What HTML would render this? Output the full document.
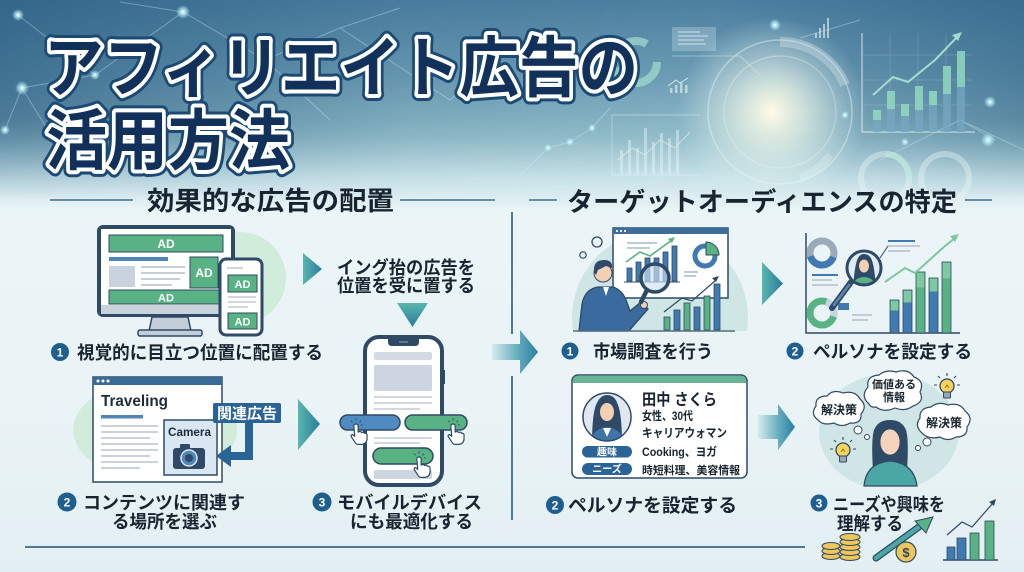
<!DOCTYPE html>
<html><head><meta charset="utf-8">
<style>
html,body{margin:0;padding:0;width:1024px;height:572px;overflow:hidden;background:#eaf4f6;}
svg{display:block}
text{font-family:"Liberation Sans","Noto Sans CJK JP",sans-serif;font-weight:bold;}
</style></head><body>
<svg width="1024" height="572" viewBox="0 0 1024 572" xmlns="http://www.w3.org/2000/svg">
<defs>
 <linearGradient id="bg" x1="0" y1="0" x2="0" y2="572" gradientUnits="userSpaceOnUse">
  <stop offset="0" stop-color="#4d80a0"/>
  <stop offset="0.14" stop-color="#6f9fb7"/>
  <stop offset="0.24" stop-color="#94bfcb"/>
  <stop offset="0.31" stop-color="#c9e3e9"/>
  <stop offset="0.37" stop-color="#ebf5f7"/>
  <stop offset="0.7" stop-color="#eaf4f6"/>
  <stop offset="1" stop-color="#e4eff3"/>
 </linearGradient>
 <linearGradient id="hdark" x1="0" y1="0" x2="1024" y2="0" gradientUnits="userSpaceOnUse">
  <stop offset="0" stop-color="#23557a" stop-opacity="0.6"/>
  <stop offset="0.4" stop-color="#23557a" stop-opacity="0.1"/>
  <stop offset="0.7" stop-color="#23557a" stop-opacity="0"/>
  <stop offset="1" stop-color="#23557a" stop-opacity="0.45"/>
 </linearGradient>
 <linearGradient id="vfade" x1="0" y1="0" x2="0" y2="1">
  <stop offset="0" stop-color="#fff"/>
  <stop offset="0.6" stop-color="#fff"/>
  <stop offset="1" stop-color="#000"/>
 </linearGradient>
 <mask id="topmask"><rect x="0" y="0" width="1024" height="200" fill="url(#vfade)"/></mask>
 <radialGradient id="glow" cx="772" cy="112" r="95" gradientUnits="userSpaceOnUse">
  <stop offset="0" stop-color="#fffbe6" stop-opacity="1"/>
  <stop offset="0.35" stop-color="#eef6e8" stop-opacity="0.7"/>
  <stop offset="1" stop-color="#d8ecee" stop-opacity="0"/>
 </radialGradient>
 <radialGradient id="dot" cx="0.5" cy="0.5" r="0.5">
  <stop offset="0" stop-color="#ffffff" stop-opacity="1"/>
  <stop offset="0.35" stop-color="#bff6ff" stop-opacity="0.8"/>
  <stop offset="1" stop-color="#bff6ff" stop-opacity="0"/>
 </radialGradient>
 <linearGradient id="tri" x1="0" y1="0" x2="1" y2="0">
  <stop offset="0" stop-color="#5ab6ad"/>
  <stop offset="1" stop-color="#2a7c9e"/>
 </linearGradient>
 <linearGradient id="tridown" x1="0" y1="0" x2="0" y2="1">
  <stop offset="0" stop-color="#5ab6ad"/>
  <stop offset="1" stop-color="#2a7c9e"/>
 </linearGradient>
 <linearGradient id="blk" x1="0" y1="0" x2="1" y2="0">
  <stop offset="0" stop-color="#d6ecee"/>
  <stop offset="0.55" stop-color="#66aebe"/>
  <stop offset="1" stop-color="#2a7ea0"/>
 </linearGradient>
 <clipPath id="clipR1"><rect x="540" y="200" width="220" height="131"/></clipPath>
 <clipPath id="clipR3"><rect x="800" y="360" width="200" height="126"/></clipPath>
 <clipPath id="clipAv"><circle cx="607" cy="417" r="24"/></clipPath>
 <clipPath id="clipMag"><circle cx="864" cy="268" r="17"/></clipPath>
 <g id="hand">
  <path d="M-2.5 2.5 q0 -2.5 2.5 -2.5 q2.5 0 2.5 2.5 v7 q3 -1.5 4 0.5 q3 -1 3.5 1 q3 -0.5 3 2 v4 q0 6 -6 7 h-4 q-3 0 -4.5 -3 l-4 -6 q-1 -2.5 1.5 -2.5 l2.5 2 z" fill="#fff" stroke="#2f4a66" stroke-width="1.4" stroke-linejoin="round"/>
  <path d="M-4 -2 l-2 -2 M0 -4 v-3 M4 -2 l2 -2 M6 1 h2" stroke="#2f4a66" stroke-width="1" fill="none"/>
 </g>
 <g id="bulb">
  <circle cx="0" cy="0" r="7" fill="#f5d45c" stroke="#2f4a66" stroke-width="1.3"/>
  <path d="M-2 2 l2 -3 l2 3" stroke="#8a6a1a" stroke-width="0.9" fill="none"/>
  <rect x="-3.5" y="6" width="7" height="6" rx="1" fill="#9aa8b5" stroke="#2f4a66" stroke-width="1"/>
  <path d="M0 -10 v-3 M7 -8 l2 -2 M-7 -8 l-2 -2 M10 -1 h3 M-10 -1 h-3" stroke="#2f4a66" stroke-width="1.1"/>
 </g>
</defs>

<!-- background -->
<rect x="0" y="0" width="1024" height="572" fill="url(#bg)"/>
<rect x="0" y="0" width="1024" height="200" fill="url(#hdark)" mask="url(#topmask)"/>
<rect x="600" y="0" width="360" height="220" fill="url(#glow)"/>

<!-- network lines -->
<g stroke="#d8f4ff" stroke-opacity="0.35" stroke-width="1" fill="none">
 <path d="M18 15 L95 75 L22 88 L5 130 M95 75 L183 12 L265 60 L340 28 L450 100 M183 12 L120 2 M265 60 L330 120 M22 88 L60 150 M340 28 L400 8 M450 100 L520 40"/>
 <path d="M520 175 L548 148 L570 142 L592 128 L610 108 M800 38 L860 20 M995 140 L960 120 L1024 150 M960 120 L880 160"/>
</g>
<g>
 <circle cx="18" cy="15" r="6" fill="url(#dot)"/>
 <circle cx="183" cy="12" r="7" fill="url(#dot)"/>
 <circle cx="22" cy="88" r="7" fill="url(#dot)"/>
 <circle cx="95" cy="75" r="5" fill="url(#dot)"/>
 <circle cx="5" cy="130" r="5" fill="url(#dot)"/>
 <circle cx="60" cy="150" r="4" fill="url(#dot)"/>
 <circle cx="548" cy="148" r="4" fill="url(#dot)"/>
 <circle cx="570" cy="142" r="4" fill="url(#dot)"/>
 <circle cx="592" cy="128" r="4" fill="url(#dot)"/>
 <circle cx="775" cy="25" r="6" fill="url(#dot)"/>
 <circle cx="990" cy="102" r="6" fill="url(#dot)"/>
 <circle cx="988" cy="140" r="7" fill="url(#dot)"/>
 <circle cx="905" cy="142" r="4" fill="url(#dot)"/>
 <circle cx="845" cy="115" r="4" fill="url(#dot)"/>
</g>

<!-- right top decorative charts -->
<g opacity="0.8">
 <circle cx="636" cy="62" r="21" fill="none" stroke="#a9e6cf" stroke-width="8" stroke-dasharray="60 20 30 22" opacity="0.8"/>
 <circle cx="780" cy="112" r="72" fill="none" stroke="#e8f6f6" stroke-opacity="0.55" stroke-width="1.5"/>
 <circle cx="780" cy="112" r="56" fill="none" stroke="#e8f6f6" stroke-opacity="0.45" stroke-width="1.2"/>
 <path d="M780 42 A70 70 0 0 1 845 85" fill="none" stroke="#e8f6f6" stroke-opacity="0.4" stroke-width="10"/>
 <path d="M830 155 A65 65 0 0 1 800 178" fill="none" stroke="#e8f6f6" stroke-opacity="0.35" stroke-width="8"/>
 <rect x="672" y="27" width="44" height="24" fill="#d9eef3" fill-opacity="0.35"/>
 <path d="M678 32 h22 M678 36 h30 M678 40 h26 M678 44 h28" stroke="#ffffff" stroke-opacity="0.7" stroke-width="1.2"/>
 <path d="M672 56 L740 56 L760 75" stroke="#e8f6f6" stroke-opacity="0.5" fill="none"/>
 <g fill="#e8f8f4" fill-opacity="0.75">
  <rect x="815" y="33" width="2" height="5"/><rect x="819" y="28" width="2" height="10"/><rect x="823" y="24" width="2" height="14"/><rect x="827" y="18" width="2" height="20"/>
  <rect x="670" y="88" width="2.5" height="5"/><rect x="675" y="85" width="2.5" height="8"/><rect x="680" y="82" width="2.5" height="11"/><rect x="685" y="85" width="2.5" height="8"/>
 </g>
 <path d="M668 86 L676 80 L680 83 L688 78" stroke="#e8f8f4" fill="none" stroke-width="1"/>
 <!-- big chart -->
 <path d="M862 33 V132 H975" stroke="#e8f6f6" stroke-opacity="0.7" fill="none" stroke-width="1.5"/>
 <g stroke="#e8f6f6" stroke-opacity="0.18" stroke-width="1">
  <path d="M862 55 H972 M862 80 H972 M862 105 H972 M890 33 V132 M918 33 V132 M946 33 V132"/>
 </g>
 <g fill="#77a9c4" fill-opacity="0.85">
  <rect x="873" y="110" width="8" height="22"/><rect x="887" y="91" width="8" height="41"/><rect x="901" y="104" width="8" height="28"/>
  <rect x="915" y="86" width="8" height="46"/><rect x="929" y="91" width="8" height="41"/><rect x="943" y="66" width="8" height="66"/><rect x="957" y="51" width="8" height="81"/>
 </g>
 <g fill="#9ae5c0" fill-opacity="0.9">
  <rect x="873" y="110" width="8" height="10"/><rect x="887" y="91" width="8" height="18"/><rect x="901" y="104" width="8" height="12"/>
  <rect x="915" y="86" width="8" height="24"/><rect x="929" y="91" width="8" height="14"/><rect x="943" y="66" width="8" height="28"/><rect x="957" y="51" width="8" height="36"/>
 </g>
 <path d="M873 95 L893 77 L908 82 L935 60 L958 36" stroke="#b6f3d6" stroke-width="2" fill="none"/>
 <path d="M962 32 L952 35 L958 41 Z" fill="#b6f3d6"/>
 <!-- lower left chart -->
 <path d="M612 115 H700 M612 175 H700 M612 115 V175" stroke="#e8f6f6" stroke-opacity="0.5" fill="none"/>
 <g fill="#eaf8f6" fill-opacity="0.55">
  <rect x="620" y="150" width="3" height="25"/><rect x="628" y="140" width="3" height="35"/><rect x="636" y="148" width="3" height="27"/><rect x="644" y="128" width="3" height="47"/><rect x="652" y="142" width="3" height="33"/><rect x="660" y="133" width="3" height="42"/><rect x="668" y="138" width="3" height="37"/><rect x="676" y="130" width="3" height="45"/>
 </g>
 <path d="M618 160 L632 148 L645 155 L660 140 L675 148 L690 132" stroke="#eaf8f6" stroke-opacity="0.7" fill="none"/>
 <circle cx="885" cy="178" r="24" fill="none" stroke="#e8f6f6" stroke-opacity="0.5" stroke-width="6"/>
 <circle cx="945" cy="178" r="24" fill="none" stroke="#e8f6f6" stroke-opacity="0.5" stroke-width="6"/>
 <path d="M885 154 A24 24 0 0 1 909 178" fill="none" stroke="#bff0d8" stroke-opacity="0.7" stroke-width="6"/>
</g>

<!-- title -->
<g font-size="66">
 <text x="44" y="91" textLength="594" lengthAdjust="spacingAndGlyphs" fill="#1d4a74" stroke="#1d4a74" stroke-width="14" stroke-linejoin="round">アフィリエイト広告の</text>
 <text x="44" y="91" textLength="594" lengthAdjust="spacingAndGlyphs" fill="#fff" stroke="#ffffff" stroke-width="8" stroke-linejoin="round">アフィリエイト広告の</text>
 <text x="44" y="91" textLength="594" lengthAdjust="spacingAndGlyphs" fill="#11315a">アフィリエイト広告の</text>
 <text x="46" y="164" textLength="244" lengthAdjust="spacingAndGlyphs" fill="#1d4a74" stroke="#1d4a74" stroke-width="14" stroke-linejoin="round">活用方法</text>
 <text x="46" y="164" textLength="244" lengthAdjust="spacingAndGlyphs" fill="#fff" stroke="#ffffff" stroke-width="8" stroke-linejoin="round">活用方法</text>
 <text x="46" y="164" textLength="244" lengthAdjust="spacingAndGlyphs" fill="#11315a">活用方法</text>
</g>

<!-- section headers -->
<g stroke="#3f6f8c" stroke-width="1.5">
 <line x1="50" y1="200" x2="133" y2="200"/><line x1="400" y1="200" x2="495" y2="200"/>
 <line x1="529" y1="200" x2="557" y2="200"/><line x1="965" y1="200" x2="992" y2="200"/>
</g>
<text x="147" y="210" font-size="26" textLength="247" lengthAdjust="spacingAndGlyphs" fill="#18242f">効果的な広告の配置</text>
<text x="567" y="211" font-size="26" textLength="390" lengthAdjust="spacingAndGlyphs" fill="#18242f">ターゲットオーディエンスの特定</text>

<!-- dividers -->
<g stroke="#4d7b92" stroke-width="2">
 <line x1="512" y1="212" x2="512" y2="334"/>
 <line x1="512" y1="376" x2="512" y2="520"/>
 <line x1="25" y1="547" x2="805" y2="547"/>
</g>
<!-- block arrow center -->
<path d="M492 344 H520 V330 L538 352 L520 374 V360 H492 Z" fill="url(#blk)"/>
<!-- block arrow right bottom -->
<path d="M758 415 H778 V404 L795 427 L778 450 V439 H758 Z" fill="url(#blk)"/>

<!-- ============ LEFT ITEM 1: monitor ============ -->
<circle cx="240" cy="278" r="46" fill="#d2ecdc"/>
<rect x="97" y="225" width="138" height="92" rx="6" fill="#2f4a66"/>
<rect x="101" y="229" width="130" height="76" fill="#ffffff"/>
<rect x="101" y="305" width="130" height="9" fill="#c9d3dc"/>
<path d="M152 317 H188 L191 331 H149 Z" fill="#c3ced8" stroke="#2f4a66" stroke-width="1.5"/>
<rect x="138" y="330" width="64" height="6" rx="2" fill="#c3ced8" stroke="#2f4a66" stroke-width="1.5"/>
<rect x="109" y="235" width="114" height="17" fill="#58b283" stroke="#2f4a66" stroke-width="1"/>
<text x="166" y="248" font-size="12" fill="#fff" text-anchor="middle">AD</text>
<rect x="109" y="257" width="59" height="4" fill="#4f86b5"/>
<rect x="109" y="266" width="26" height="21" fill="#c8d3de"/>
<g stroke="#b3bfcb" stroke-width="1.6"><line x1="141" y1="267" x2="185" y2="267"/><line x1="141" y1="273" x2="185" y2="273"/><line x1="141" y1="279" x2="180" y2="279"/><line x1="141" y1="285" x2="172" y2="285"/></g>
<rect x="190" y="257" width="28" height="31" fill="#58b283" stroke="#2f4a66" stroke-width="1"/>
<text x="204" y="277" font-size="12" fill="#fff" text-anchor="middle">AD</text>
<rect x="109" y="290" width="114" height="14" fill="#58b283" stroke="#2f4a66" stroke-width="1"/>
<text x="166" y="301.5" font-size="11" fill="#fff" text-anchor="middle">AD</text>
<!-- small phone -->
<rect x="220" y="259" width="42" height="76" rx="6" fill="#ffffff" stroke="#2f4a66" stroke-width="3"/>
<g stroke="#b3bfcb" stroke-width="1.3"><line x1="227" y1="268" x2="243" y2="268"/><line x1="228" y1="297" x2="256" y2="297"/><line x1="228" y1="302" x2="256" y2="302"/><line x1="228" y1="307" x2="248" y2="307"/></g>
<rect x="228" y="275" width="29" height="17" fill="#58b283" stroke="#2f4a66" stroke-width="1"/>
<text x="242.5" y="288" font-size="11" fill="#fff" text-anchor="middle">AD</text>
<rect x="228" y="313" width="29" height="16" fill="#58b283" stroke="#2f4a66" stroke-width="1"/>
<text x="242.5" y="325.5" font-size="11" fill="#fff" text-anchor="middle">AD</text>

<!-- label L1 -->
<circle cx="60" cy="352" r="9" fill="#1f5f8f"/>
<text x="60" y="356.5" font-size="12" fill="#fff" text-anchor="middle">1</text>
<text x="77" y="359" font-size="18" textLength="246" lengthAdjust="spacingAndGlyphs" fill="#18242f">視覚的に目立つ位置に配置する</text>

<!-- arrows left -->
<path d="M303 253 L322 269 L303 285 Z" fill="url(#tri)"/>
<path d="M298 399 L320 424 L298 450 Z" fill="url(#tri)"/>
<path d="M397 303 H428 L412.5 327 Z" fill="url(#tridown)"/>
<text x="406" y="274" font-size="18" text-anchor="middle" textLength="138" lengthAdjust="spacingAndGlyphs" fill="#18242f">イング抬の広告を</text>
<text x="406" y="292" font-size="18" text-anchor="middle" textLength="138" lengthAdjust="spacingAndGlyphs" fill="#18242f">位置を受に置する</text>

<!-- big phone -->
<rect x="365" y="337" width="77" height="148" rx="14" fill="#ffffff" stroke="#2f4a66" stroke-width="4"/>
<path d="M388 339 H419 V342 Q419 346 415 346 H392 Q388 346 388 342 Z" fill="#2f4a66"/>
<line x1="399" y1="342" x2="408" y2="342" stroke="#8fa3b6" stroke-width="1"/>
<rect x="443" y="370" width="2" height="14" fill="#2f4a66"/>
<rect x="374" y="352" width="58" height="8" rx="2" fill="#d2dbe4"/>
<rect x="374" y="365" width="58" height="26" rx="2" fill="#cdd6e0"/>
<g stroke="#c2ccd6" stroke-width="1.6"><line x1="374" y1="397" x2="432" y2="397"/><line x1="374" y1="403" x2="432" y2="403"/><line x1="374" y1="409" x2="420" y2="409"/><line x1="374" y1="438" x2="432" y2="438"/><line x1="374" y1="443" x2="420" y2="443"/></g>
<rect x="374" y="470" width="58" height="9" rx="2" fill="#cdd6e0"/>
<rect x="340" y="415" width="60" height="15" rx="7.5" fill="#4f8bc0" stroke="#2f4a66" stroke-width="1.5"/>
<rect x="405" y="415" width="62" height="15" rx="7.5" fill="#58b283" stroke="#2f4a66" stroke-width="1.5"/>
<rect x="373" y="448" width="60" height="16" rx="8" fill="#58b283" stroke="#2f4a66" stroke-width="1.5"/>
<use href="#hand" transform="translate(356,424) scale(0.85)"/>
<use href="#hand" transform="translate(453,424) scale(0.85)"/>
<use href="#hand" transform="translate(419,457) scale(0.85)"/>

<!-- ============ LEFT ITEM 2: browser ============ -->
<ellipse cx="155" cy="430" rx="82" ry="50" fill="#d2ecdc"/>
<rect x="93" y="377" width="129" height="105" fill="#ffffff" stroke="#2f4a66" stroke-width="1.5"/>
<rect x="93" y="377" width="129" height="8" fill="#3a6a96"/>
<circle cx="98" cy="381" r="1.5" fill="#fff"/><circle cx="103" cy="381" r="1.5" fill="#fff"/><circle cx="108" cy="381" r="1.5" fill="#fff"/>
<text x="101" y="406" font-size="16" textLength="67" lengthAdjust="spacingAndGlyphs" fill="#1d2b3a">Traveling</text>
<rect x="101" y="415" width="42" height="3.5" fill="#4f86b5"/>
<g stroke="#b8c3ce" stroke-width="1.5"><line x1="101" y1="426" x2="158" y2="426"/><line x1="101" y1="432" x2="158" y2="432"/><line x1="101" y1="438" x2="150" y2="438"/><line x1="101" y1="444" x2="158" y2="444"/><line x1="101" y1="450" x2="158" y2="450"/><line x1="101" y1="456" x2="150" y2="456"/><line x1="101" y1="462" x2="158" y2="462"/><line x1="101" y1="468" x2="140" y2="468"/></g>
<rect x="164" y="420" width="53" height="55" fill="#d8e7f1" stroke="#2f4a66" stroke-width="1.5"/>
<text x="168" y="436" font-size="11.5" textLength="43" lengthAdjust="spacingAndGlyphs" fill="#1d2b3a">Camera</text>
<rect x="173" y="448" width="32" height="21" rx="3" fill="#2f4a66"/>
<rect x="180" y="444" width="10" height="5" rx="1" fill="#2f4a66"/>
<circle cx="189" cy="458" r="8" fill="#4f86b5" stroke="#dce9f3" stroke-width="1.5"/>
<circle cx="189" cy="458" r="4" fill="#2f4a66"/>
<rect x="213" y="403" width="68" height="20" rx="2" fill="#2a6496"/>
<text x="247" y="418.5" font-size="15" text-anchor="middle" textLength="60" lengthAdjust="spacingAndGlyphs" fill="#ffffff">関連広告</text>
<path d="M249 423 V456 H228" stroke="#2a6496" stroke-width="8" fill="none"/>
<path d="M231 445 L216 456 L231 467 Z" fill="#2a6496"/>

<!-- label L2 -->
<circle cx="67" cy="502" r="9.5" fill="#1f5f8f"/>
<text x="67" y="506.5" font-size="12" fill="#fff" text-anchor="middle">2</text>
<text x="83" y="509" font-size="18" textLength="162" lengthAdjust="spacingAndGlyphs" fill="#18242f">コンテンツに関連す</text>
<text x="112" y="528" font-size="18" textLength="105" lengthAdjust="spacingAndGlyphs" fill="#18242f">る場所を選ぶ</text>
<!-- label L3 -->
<circle cx="322" cy="502" r="9.5" fill="#1f5f8f"/>
<text x="322" y="506.5" font-size="12" fill="#fff" text-anchor="middle">3</text>
<text x="337" y="509" font-size="18" textLength="145" lengthAdjust="spacingAndGlyphs" fill="#18242f">モバイルデバイス</text>
<text x="350" y="528" font-size="18" textLength="123" lengthAdjust="spacingAndGlyphs" fill="#18242f">にも最適化する</text>

<!-- ============ RIGHT ITEM 1: market research ============ -->
<g clip-path="url(#clipR1)">
 <circle cx="660" cy="318" r="88" fill="#d0e6e6"/>
</g>
<circle cx="597" cy="242" r="5" fill="none" stroke="#2f4a66" stroke-width="1.3"/>
<circle cx="583" cy="255" r="3.2" fill="none" stroke="#2f4a66" stroke-width="1.2"/>
<rect x="613" y="228" width="115" height="70" fill="#ffffff" stroke="#2f4a66" stroke-width="1.5"/>
<rect x="613" y="228" width="115" height="6" fill="#3d6e9b"/>
<circle cx="617" cy="231" r="1.1" fill="#fff"/><circle cx="621" cy="231" r="1.1" fill="#fff"/><circle cx="625" cy="231" r="1.1" fill="#fff"/>
<g stroke="#a8bccd" stroke-width="1.6"><line x1="627" y1="243" x2="657" y2="243"/><line x1="627" y1="248" x2="650" y2="248"/><line x1="684" y1="272" x2="698" y2="272"/><line x1="684" y1="276" x2="696" y2="276"/></g>
<g fill="#3f7bb0" stroke="#2f4a66" stroke-width="0.8">
 <rect x="627" y="268" width="5" height="13"/><rect x="636" y="262" width="5" height="19"/><rect x="645" y="258" width="5" height="23"/><rect x="654" y="258" width="5" height="23"/><rect x="663" y="252" width="5" height="29"/><rect x="672" y="246" width="5" height="35"/>
</g>
<path d="M626 262 L640 252 L650 256 L672 240" stroke="#58b283" stroke-width="1.6" fill="none"/>
<path d="M675 237 L668 239 L672 243 Z" fill="#58b283"/>
<line x1="624" y1="282" x2="680" y2="282" stroke="#2f4a66" stroke-width="1"/>
<circle cx="705" cy="256" r="10" fill="none" stroke="#3f7bb0" stroke-width="5"/>
<path d="M706 255 V242 A13 13 0 0 1 719 255 Z" fill="#58b283" stroke="#2f4a66" stroke-width="1"/>
<!-- front bar chart -->
<g stroke="#2f4a66" stroke-width="0.8">
 <rect x="664" y="317" width="6" height="13" fill="#58b283"/><rect x="674" y="310" width="6" height="20" fill="#3f7bb0"/><rect x="684" y="303" width="6" height="27" fill="#58b283"/><rect x="694" y="307" width="6" height="23" fill="#3f7bb0"/><rect x="704" y="296" width="6" height="34" fill="#58b283"/><rect x="714" y="284" width="6" height="46" fill="#3f7bb0"/>
</g>
<path d="M664 312 L682 298 L692 301 L716 280" stroke="#2f4a66" stroke-width="1.2" fill="none"/>
<path d="M719 276 L712 278 L716 282 Z" fill="#2f4a66"/>
<!-- person -->
<path d="M579 331 L582 304 Q585 289 598 287 L613 287 Q622 290 626 300 L630 311 L641 302 L648 309 L634 325 L629 331 Z" fill="#3a6a9e" stroke="#2f4a66" stroke-width="1.3"/>
<path d="M603 287 L606 296 L609 287 Z" fill="#fff"/>
<circle cx="603" cy="273" r="9" fill="#f3cfb3" stroke="#2f4a66" stroke-width="1"/>
<path d="M594 272 Q593 260 604 260 Q613 260 612 268 L606 266 L598 270 L596 275 Z" fill="#2f4a66"/>
<circle cx="644" cy="305" r="3.5" fill="#f3cfb3" stroke="#2f4a66" stroke-width="1"/>
<line x1="647" y1="290" x2="641" y2="302" stroke="#2f4a66" stroke-width="4.5" stroke-linecap="round"/>
<circle cx="655" cy="278" r="14" fill="#cfe2f0" fill-opacity="0.65" stroke="#2f4a66" stroke-width="3.5"/>
<line x1="573" y1="331" x2="735" y2="331" stroke="#55707f" stroke-width="1.5"/>

<!-- label R1 -->
<circle cx="570" cy="351" r="8.5" fill="#1f5f8f"/>
<text x="570" y="355.5" font-size="12" fill="#fff" text-anchor="middle">1</text>
<text x="593" y="358" font-size="18" textLength="120" lengthAdjust="spacingAndGlyphs" fill="#18242f">市場調査を行う</text>

<path d="M762 262 L783 283.5 L762 305 Z" fill="url(#tri)"/>

<!-- ============ RIGHT ITEM 2: persona analysis ============ -->
<path d="M806 233 V333 H960" stroke="#2f4a66" stroke-width="1.5" fill="none"/>
<circle cx="822" cy="253" r="12" fill="none" stroke="#9aaab8" stroke-width="7"/>
<circle cx="822" cy="253" r="12" fill="none" stroke="#3f7bb0" stroke-width="7" stroke-dasharray="30 46" transform="rotate(20 822 253)"/>
<circle cx="822" cy="313" r="12" fill="none" stroke="#58b283" stroke-width="7"/>
<circle cx="822" cy="313" r="12" fill="none" stroke="#c5d6e0" stroke-width="7" stroke-dasharray="18 58" transform="rotate(-70 822 313)"/>
<g stroke="#b3bfcb" stroke-width="1.6"><line x1="812" y1="280" x2="832" y2="280"/><line x1="812" y1="285" x2="838" y2="285"/><line x1="852" y1="315" x2="872" y2="315"/><line x1="852" y1="320" x2="868" y2="320"/><line x1="888" y1="251" x2="910" y2="251"/><line x1="888" y1="246" x2="920" y2="246"/></g>
<line x1="812" y1="275" x2="838" y2="275" stroke="#3f7bb0" stroke-width="2"/>
<rect x="838" y="303" width="11" height="7" fill="#3f7bb0"/>
<line x1="888" y1="241" x2="915" y2="241" stroke="#3f7bb0" stroke-width="2"/>
<path d="M880 258 L888 246" stroke="#2f4a66" stroke-width="1"/>
<g stroke="#2f4a66" stroke-width="0.8">
 <rect x="890" y="300" width="9" height="33" fill="#3f7bb0"/><rect x="903" y="290" width="9" height="43" fill="#3f7bb0"/><rect x="916" y="272" width="9" height="61" fill="#58b283"/><rect x="929" y="278" width="9" height="55" fill="#3f7bb0"/><rect x="942" y="262" width="9" height="71" fill="#58b283"/>
</g>
<g fill="#7fc9a0"><rect x="890.5" y="300.5" width="8" height="10"/><rect x="903.5" y="290.5" width="8" height="12"/><rect x="916.5" y="272.5" width="8" height="15"/><rect x="929.5" y="278.5" width="8" height="13"/><rect x="942.5" y="262.5" width="8" height="16"/></g>
<path d="M885 282 L905 268 L915 273 L945 246 L955 238" stroke="#7cc79e" stroke-width="2" fill="none"/>
<path d="M959 234 L950 236 L955 242 Z" fill="#7cc79e"/>
<line x1="851" y1="282" x2="832" y2="308" stroke="#2f4a66" stroke-width="6" stroke-linecap="round"/>
<line x1="849" y1="285" x2="834" y2="305" stroke="#5d86ad" stroke-width="2.5" stroke-linecap="round"/>
<circle cx="864" cy="268" r="17" fill="#e0ecf3"/>
<g clip-path="url(#clipMag)">
 <path d="M853 290 Q854 272 856 264 Q858 254 864 254 Q871 254 873 264 Q875 272 876 290 Z" fill="#2f4a66"/>
 <ellipse cx="864" cy="266" rx="5" ry="6.5" fill="#f3cfb3"/>
 <path d="M851 290 Q852 278 864 277 Q876 278 877 290 Z" fill="#58b283"/>
</g>
<circle cx="864" cy="268" r="17" fill="none" stroke="#2f4a66" stroke-width="3"/>

<!-- label R2 -->
<circle cx="795" cy="351" r="8.5" fill="#1f5f8f"/>
<text x="795" y="355.5" font-size="12" fill="#fff" text-anchor="middle">2</text>
<text x="813" y="358" font-size="18" textLength="159" lengthAdjust="spacingAndGlyphs" fill="#18242f">ペルソナを設定する</text>

<!-- ============ RIGHT persona card ============ -->
<rect x="572" y="375" width="175" height="103" rx="6" fill="#ffffff" stroke="#2f4a66" stroke-width="1.5"/>
<path d="M572.75 383 V381 Q572.75 375.75 578 375.75 H741 Q746.25 375.75 746.25 381 V383 Z" fill="#66b593"/>
<circle cx="607" cy="417" r="24" fill="#dfe8f0"/>
<g clip-path="url(#clipAv)">
 <path d="M592 445 Q592 415 596 405 Q600 395 607 395 Q615 395 618 405 Q622 415 622 445 Z" fill="#2f4a66"/>
 <ellipse cx="607" cy="412" rx="7" ry="9" fill="#f3cfb3"/>
 <path d="M590 445 Q591 429 607 427 Q623 429 624 445 Z" fill="#3f74a8"/>
 <path d="M603 428 L607 437 L611 428 Z" fill="#fff"/>
</g>
<circle cx="607" cy="417" r="24" fill="none" stroke="#2f4a66" stroke-width="1.5"/>
<text x="642" y="405" font-size="16" textLength="75" lengthAdjust="spacingAndGlyphs" fill="#18242f">田中 さくら</text>
<text x="642" y="420" font-size="12" textLength="51" lengthAdjust="spacingAndGlyphs" fill="#18242f">女性、30代</text>
<text x="642" y="437" font-size="12" textLength="85" lengthAdjust="spacingAndGlyphs" fill="#18242f">キャリアウォマン</text>
<rect x="582" y="446" width="50" height="11.5" rx="5.75" fill="#2a6496"/>
<text x="607" y="455.5" font-size="10" text-anchor="middle" fill="#fff">趣味</text>
<rect x="582" y="463" width="50" height="12" rx="6" fill="#2a6496"/>
<text x="607" y="472.5" font-size="10" text-anchor="middle" fill="#fff">ニーズ</text>
<text x="642" y="456" font-size="12" textLength="75" lengthAdjust="spacingAndGlyphs" fill="#18242f">Cooking、ヨガ</text>
<text x="642" y="474" font-size="11" textLength="98" lengthAdjust="spacingAndGlyphs" fill="#18242f">時短料理、美容情報</text>

<!-- label R persona -->
<circle cx="555" cy="505" r="9" fill="#1f5f8f"/>
<text x="555" y="509.5" font-size="12" fill="#fff" text-anchor="middle">2</text>
<text x="568" y="512" font-size="18.5" textLength="169" lengthAdjust="spacingAndGlyphs" fill="#18242f">ペルソナを設定する</text>

<!-- ============ RIGHT ITEM 3: needs ============ -->
<g clip-path="url(#clipR3)">
 <ellipse cx="889" cy="432" rx="70" ry="58" fill="#d0e6e6"/>
</g>
<path d="M873 470 Q871 440 874 430 Q878 420 890 420 Q902 420 906 430 Q909 440 907 470 Z" fill="#2f4a66"/>
<ellipse cx="890" cy="442" rx="10" ry="13" fill="#f6d3bd" stroke="#2f4a66" stroke-width="0.8"/>
<path d="M864 486 Q866 463 890 461 Q914 463 917 486 Z" fill="#4aa7a4" stroke="#2f4a66" stroke-width="1.2"/>
<circle cx="858" cy="430" r="4" fill="#fff" stroke="#2f4a66" stroke-width="1"/>
<circle cx="867" cy="437" r="2.5" fill="#fff" stroke="#2f4a66" stroke-width="1"/>
<circle cx="927" cy="442" r="4" fill="#fff" stroke="#2f4a66" stroke-width="1"/>
<circle cx="918" cy="448" r="2.5" fill="#fff" stroke="#2f4a66" stroke-width="1"/>
<!-- bubbles -->
<path d="M818 420 Q810 414 816 406 Q815 396 827 396 Q833 389 843 393 Q855 390 860 399 Q868 406 861 414 Q862 424 850 423 Q842 428 834 423 Q823 426 818 420 Z" fill="#fff" stroke="#2f4a66" stroke-width="1.2"/>
<text x="839" y="414" font-size="12" text-anchor="middle" fill="#18242f">解決策</text>
<path d="M869 404 Q860 396 868 387 Q866 376 879 375 Q886 369 896 372 Q908 368 914 377 Q925 381 920 392 Q925 402 913 406 Q905 412 895 408 Q884 413 876 407 Q871 408 869 404 Z" fill="#fff" stroke="#2f4a66" stroke-width="1.2"/>
<text x="894" y="388" font-size="11" text-anchor="middle" fill="#18242f">価値ある</text>
<text x="894" y="401" font-size="11" text-anchor="middle" fill="#18242f">情報</text>
<path d="M922 433 Q914 426 920 418 Q919 408 931 407 Q938 401 948 405 Q960 402 965 411 Q974 418 967 427 Q968 437 956 437 Q948 442 940 437 Q928 440 922 433 Z" fill="#fff" stroke="#2f4a66" stroke-width="1.2"/>
<text x="944" y="427" font-size="12" text-anchor="middle" fill="#18242f">解決策</text>
<use href="#bulb" transform="translate(947,386)"/>
<use href="#bulb" transform="translate(843,450)"/>

<!-- label R3 -->
<circle cx="819" cy="503" r="8.5" fill="#1f5f8f"/>
<text x="819" y="507.5" font-size="12" fill="#fff" text-anchor="middle">3</text>
<text x="833" y="511" font-size="18" textLength="112" lengthAdjust="spacingAndGlyphs" fill="#18242f">ニーズや興味を</text>
<text x="837" y="530" font-size="18" textLength="66" lengthAdjust="spacingAndGlyphs" fill="#18242f">理解する</text>

<!-- coins / growth -->
<g fill="#eec65c" stroke="#2f4a66" stroke-width="1.1">
 <ellipse cx="831" cy="556" rx="9" ry="3.5"/><ellipse cx="831" cy="551" rx="9" ry="3.5"/><ellipse cx="831" cy="546" rx="9" ry="3.5"/>
 <ellipse cx="850" cy="557" rx="10" ry="3.5"/><ellipse cx="850" cy="552" rx="10" ry="3.5"/><ellipse cx="850" cy="547" rx="10" ry="3.5"/><ellipse cx="850" cy="542" rx="10" ry="3.5"/><ellipse cx="850" cy="537" rx="10" ry="3.5"/>
</g>
<path d="M876 558 L923 524" stroke="#2f4a66" stroke-width="7" stroke-linecap="round"/>
<path d="M876 558 L923 524" stroke="#4aa7a4" stroke-width="4.5" stroke-linecap="round"/>
<path d="M933 517 L915 521 L926 533 Z" fill="#58b283" stroke="#2f4a66" stroke-width="1"/>
<circle cx="906" cy="552" r="10" fill="#eec65c" stroke="#2f4a66" stroke-width="1.2"/>
<text x="906" y="557" font-size="13" text-anchor="middle" fill="#2f4a66">$</text>
<path d="M943 560 H998" stroke="#2f4a66" stroke-width="1.5"/>
<g stroke="#2f4a66" stroke-width="0.8">
 <rect x="947" y="547" width="8" height="13" fill="#3f7bb0"/><rect x="957" y="538" width="9" height="22" fill="#3f7bb0"/><rect x="970" y="533" width="9" height="27" fill="#58b283"/><rect x="985" y="521" width="9" height="39" fill="#58b283"/>
</g>
<path d="M947 535 L962 522 L972 527 L993 503" stroke="#2f4a66" stroke-width="1.2" fill="none"/>
<path d="M996 499 L989 502 L994 506 Z" fill="#2f4a66"/>
</svg>
</body></html>
